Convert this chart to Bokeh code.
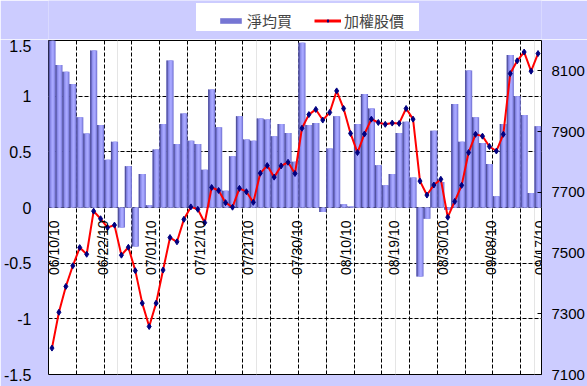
import math
from bokeh.plotting import figure
from bokeh.layouts import column
from bokeh.models import (Range1d, LinearAxis, FixedTicker, Grid, Legend, LegendItem,
                          CustomJSTickFormatter)
from bokeh.core.properties import value
from bokeh.embed import file_html
from bokeh.resources import INLINE

dates = ["06/10/10","06/11/10","06/14/10","06/15/10","06/17/10","06/18/10","06/21/10","06/22/10",
         "06/23/10","06/24/10","06/25/10","06/28/10","06/29/10","06/30/10","07/01/10","07/02/10",
         "07/05/10","07/06/10","07/07/10","07/08/10","07/09/10","07/12/10","07/13/10","07/14/10",
         "07/15/10","07/16/10","07/19/10","07/20/10","07/21/10","07/22/10","07/23/10","07/26/10",
         "07/27/10","07/28/10","07/29/10","07/30/10","08/02/10","08/03/10","08/04/10","08/05/10",
         "08/06/10","08/09/10","08/10/10","08/11/10","08/12/10","08/13/10","08/16/10","08/17/10",
         "08/18/10","08/19/10","08/20/10","08/23/10","08/24/10","08/25/10","08/26/10","08/27/10",
         "08/30/10","08/31/10","09/01/10","09/02/10","09/03/10","09/06/10","09/07/10","09/08/10",
         "09/09/10","09/10/10","09/13/10","09/14/10","09/15/10","09/16/10","09/17/10"]

net_buy = [1.50, 1.28, 1.22, 1.11, 0.81, 0.665, 1.41, 0.74, 0.43, 0.59, -0.18, 0.37, -0.35, 0.30,
           0.02, 0.52, 0.75, 1.32, 0.57, 0.845, 0.60, 0.57, 0.34, 1.06, 0.72, 0.15, 0.46, 0.82,
           0.61, 0.60, 0.80, 0.79, 0.64, 0.75, 0.67, 0.41, 1.48, 0.74, 0.76, -0.04, 0.53, 0.82,
           0.03, 0.01, 0.75, 1.02, 0.89, 0.38, 0.20, 0.30, 0.67, 0.77, 0.27, -0.62, -0.10, 0.69,
           0.23, -0.02, 0.93, 0.59, 1.23, 0.81, 0.58, 0.39, 0.10, 0.75, 1.37, 1.00, 0.83, 0.13, 0.73]

taiex = [7187, 7305, 7390, 7458, 7518, 7496, 7638, 7613, 7584, 7592, 7493, 7519, 7442, 7335,
         7258, 7335, 7444, 7551, 7537, 7611, 7652, 7644, 7600, 7716, 7706, 7666, 7651, 7713,
         7702, 7667, 7763, 7788, 7750, 7787, 7799, 7762, 7911, 7956, 7973, 7938, 7963, 8034,
         7976, 7894, 7831, 7892, 7941, 7930, 7924, 7928, 7927, 7976, 7941, 7737, 7691, 7724,
         7743, 7618, 7670, 7723, 7831, 7891, 7885, 7851, 7836, 7891, 8091, 8133, 8162, 8099, 8157]

date_labels = ["06/10/10", "06/22/10", "07/01/10", "07/12/10", "07/21/10", "07/30/10",
               "08/10/10", "08/19/10", "08/30/10", "09/08/10", "09/17/10"]
left_ticks = [-1.5, -1, -0.5, 0, 0.5, 1, 1.5]
right_ticks = [7100, 7300, 7500, 7700, 7900, 8100]
series_names = ["淨均買", "加權股價"]

N = len(dates)
xs = [i + 0.5 for i in range(N)]
NUM_FONT = "Liberation Sans"
CJK_FONT = "Noto Sans CJK TC"
BG = "#CCCCFF"
BAR_MAIN = "#7676D4"
LINE_C = "#FF0000"
MARK_C = "#000080"

# ---------------- legend strip (top) ----------------
top = figure(width=587, height=39, x_range=Range1d(0, 1), y_range=Range1d(0, 1),
             output_backend="svg", toolbar_location=None, x_axis_location=None, y_axis_location=None,
             min_border_left=40, min_border_right=46, min_border_top=0, min_border_bottom=0,
             background_fill_color=BG, border_fill_color=BG, outline_line_color=None)
top.grid.visible = False
# legend-only renderers: their single point lies outside the visible range
off = [-10.0]
dummy = top.scatter(x=off, y=off, alpha=0)
lb = top.vbar(x=off, top=off, width=1, fill_color=BAR_MAIN, line_color=None)
ll = top.line(x=off + [-11.0], y=off + [-11.0], line_color=LINE_C, line_width=3)
ls = top.scatter(x=off, y=off, marker="diamond", size=6, fill_color=MARK_C, line_color=MARK_C)

box = Legend(items=[LegendItem(label=" ", renderers=[dummy])], location=(148, 8),
             padding=4, glyph_width=20, glyph_height=28, label_standoff=0,
             label_width=203, label_height=28, label_text_font_size="8px",
             background_fill_color="white", background_fill_alpha=1.0,
             border_line_color=None, margin=0)
top.add_layout(box, "center")
legend = Legend(items=[LegendItem(label=series_names[0], renderers=[lb]),
                       LegendItem(label=series_names[1], renderers=[ll, ls])],
                orientation="horizontal", location=(169, 8), padding=4, spacing=22,
                glyph_width=27, glyph_height=7, label_standoff=3,
                label_text_font=CJK_FONT, label_text_font_size="15px",
                background_fill_alpha=0, border_line_color=None, margin=0)
top.add_layout(legend, "center")

# ---------------- main chart ----------------
p = figure(width=587, height=347, x_range=Range1d(0, N), y_range=Range1d(-1.5, 1.5),
           output_backend="svg", toolbar_location=None, x_axis_location=None, y_axis_location=None,
           min_border_left=40, min_border_right=46, min_border_top=1, min_border_bottom=12,
           background_fill_color="white", border_fill_color=BG,
           outline_line_color="black", outline_line_width=1)
p.extra_y_ranges = {"r": Range1d(7100, 8200)}

la = LinearAxis(ticker=FixedTicker(ticks=left_ticks),
                formatter=CustomJSTickFormatter(code="return tick.toString()"),
                axis_line_color=None, major_tick_line_color=None, minor_tick_line_color=None,
                major_label_standoff=11, major_label_text_font=NUM_FONT,
                major_label_text_font_size="16px", major_label_text_color="black")
p.add_layout(la, "left")
ra = LinearAxis(y_range_name="r", ticker=FixedTicker(ticks=right_ticks),
                axis_line_color=None, major_tick_in=4, major_tick_out=0,
                major_tick_line_color="black", minor_tick_line_color=None,
                major_label_standoff=10, major_label_text_font=NUM_FONT,
                major_label_text_font_size="15px", major_label_text_color="black")
p.add_layout(ra, "right")

p.add_layout(Grid(dimension=1, ticker=FixedTicker(ticks=[-1, -0.5, 0, 0.5, 1]),
                  grid_line_color="black", grid_line_dash="4 2", grid_line_width=1))
p.add_layout(Grid(dimension=0, ticker=FixedTicker(ticks=list(range(4, N, 4))),
                  grid_line_color="black", grid_line_dash="4 2", grid_line_width=1))

# bars with a simple horizontal shading
b1 = p.vbar(x=xs, top=net_buy, bottom=0, width=1.04, fill_color=BAR_MAIN, line_color=None)
b2 = p.vbar(x=[x + 0.08 for x in xs], top=net_buy, bottom=0, width=0.62, fill_color="#9494F2", line_color=None)
b3 = p.vbar(x=[x + 0.1 for x in xs], top=net_buy, bottom=0, width=0.3, fill_color="#A8A8FF", line_color=None)
b0 = p.vbar(x=[x - 0.42 for x in xs], top=net_buy, bottom=0, width=0.16, fill_color="#52529E", line_color=None)

ln = p.line(xs, taiex, y_range_name="r", line_color=LINE_C, line_width=2)
pts = p.scatter(xs, taiex, y_range_name="r", marker="diamond", size=6,
                fill_color=MARK_C, line_color=MARK_C)

lab_x = [dates.index(d) + 0.5 for d in date_labels]
p.text(x=lab_x, y=[0] * len(lab_x), text=date_labels, angle=math.pi / 2,
       text_align="right", text_baseline="middle", x_offset=2, y_offset=13,
       text_font=value(NUM_FONT), text_font_size="14px", text_color="black")

layout = column(top, p, spacing=0)
open("out.html", "w").write(file_html(layout, INLINE))
